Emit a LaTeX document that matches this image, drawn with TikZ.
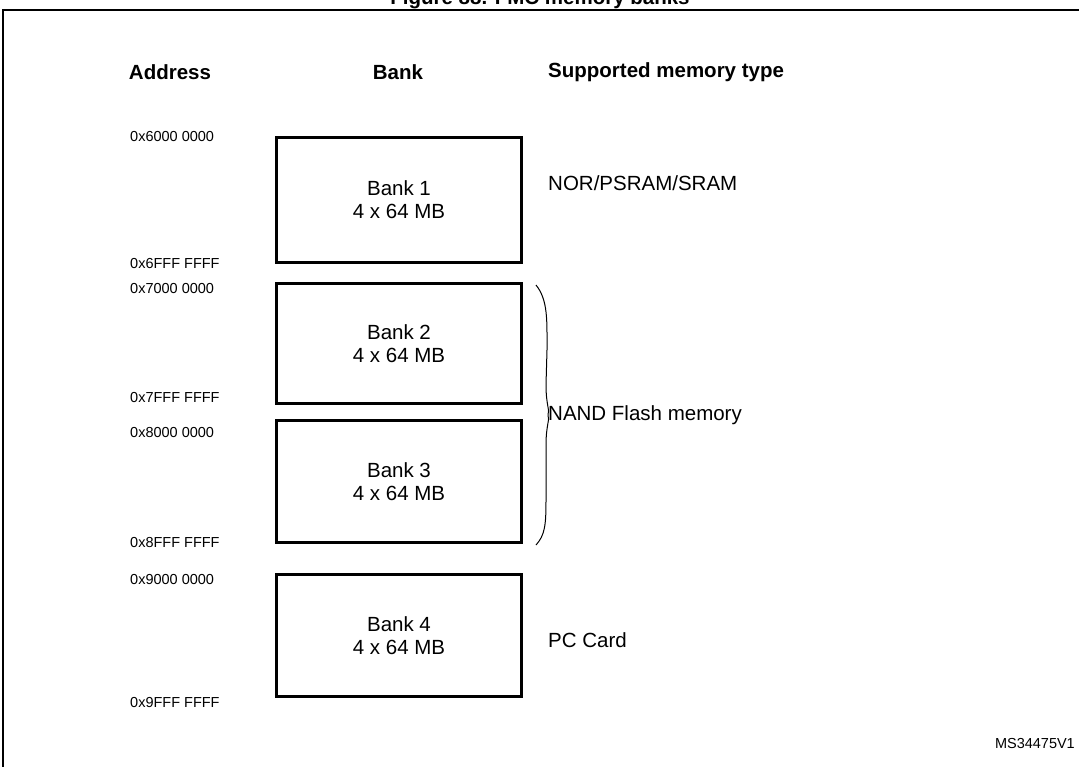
\documentclass[tikz,border=0pt]{standalone}
\usepackage{fontspec}
\setmainfont{Liberation Sans}
\begin{document}
\begin{tikzpicture}[x=1pt,y=-1pt,
 bank/.style={draw,line width=3pt,minimum width=245pt,anchor=north west,align=center,font=\fontsize{20.5}{23}\selectfont,inner sep=0pt},
 addr/.style={anchor=west,font=\fontsize{14.5}{16}\selectfont,inner sep=0pt},
 hdr/.style={font=\bfseries\fontsize{20.5}{23}\selectfont,inner sep=0pt},
 mt/.style={anchor=west,font=\fontsize{20.5}{23}\selectfont,inner sep=0pt}]
\useasboundingbox (0,0) rectangle (1079,766);
\clip (0,0) rectangle (1079,766);
\node[hdr,anchor=base] (title) at (540,4) {Figure 88. FMC memory banks};
\draw[line width=2pt] (3,780) -- (3,10) -- (1090,10);
\node[hdr] (h1) at (170,72) {Address};
\node[hdr] (h2) at (398,72) {Bank};
\node[hdr,anchor=west] (h3) at (548,72) {Supported memory type};
\node[bank,minimum height=125pt] (b1) at (275,136) {Bank 1\\4 x 64 MB};
\node[bank,minimum height=120pt] (b2) at (275,282) {Bank 2\\4 x 64 MB};
\node[bank,minimum height=122pt] (b3) at (275,419) {Bank 3\\4 x 64 MB};
\node[bank,minimum height=122pt] (b4) at (275,573) {Bank 4\\4 x 64 MB};
\node[addr] (a1) at (130,137) {0x6000 0000};
\node[addr] (a2) at (130,264) {0x6FFF FFFF};
\node[addr] (a3) at (130,289) {0x7000 0000};
\node[addr] (a4) at (130,398) {0x7FFF FFFF};
\node[addr] (a5) at (130,433) {0x8000 0000};
\node[addr] (a6) at (130,542) {0x8FFF FFFF};
\node[addr] (a7) at (130,579) {0x9000 0000};
\node[addr] (a8) at (130,702) {0x9FFF FFFF};
\node[mt] (m1) at (548,183) {NOR/PSRAM/SRAM};
\node[mt] (m2) at (548,415) {NAND Flash memory};
\node[mt] (m3) at (548,640) {PC Card};
\coordinate (bt) at (536,285);
\coordinate (bb) at (536,545);
\draw[line width=1pt] (bt) .. controls (548,300) and (547,320) .. (547,350)
  -- (546,385) .. controls (546,405) and (550,410) .. (m2.west)
  .. controls (550,420) and (546,425) .. (546,445)
  -- (546,500) .. controls (546,525) and (545,535) .. (bb);
\node[anchor=east,font=\fontsize{14.5}{16}\selectfont,inner sep=0pt] (id) at (1075,743) {MS34475V1};
\end{tikzpicture}
\end{document}
